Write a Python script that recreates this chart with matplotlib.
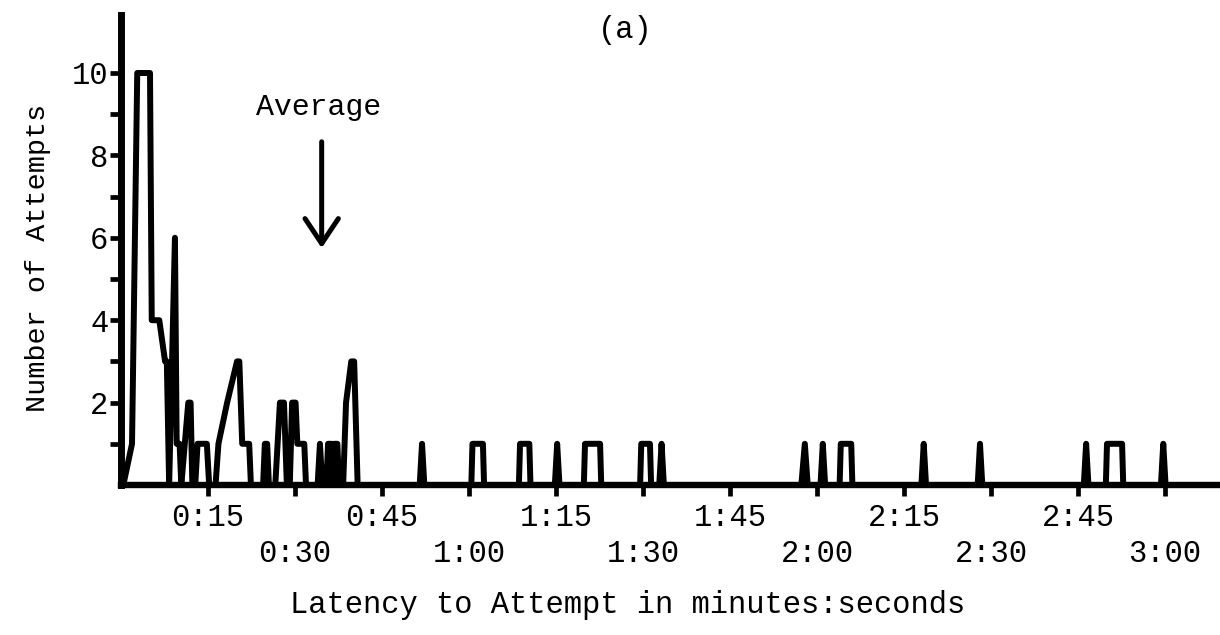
import matplotlib
matplotlib.use("Agg")
import matplotlib.pyplot as plt
from matplotlib.ticker import FixedLocator, NullFormatter

# Frequency polygon of attempt latencies: vertices (seconds, number of attempts)
latency_s = [
    0.0, 0.4, 1.9, 2.8, 5.0, 5.3, 6.6, 7.6, 7.9, 8.3, 9.3, 9.6, 10.1, 10.4,
    11.6, 12.0, 12.3, 12.8, 13.2, 14.8, 15.2,
    16.3, 16.8, 18.3, 20.0, 20.4, 20.9, 22.1, 22.4,
    24.5, 24.8, 25.2, 25.5,
    26.6, 27.0, 27.4, 28.1, 28.6, 29.1, 29.5, 30.1, 30.4, 31.6, 31.9,
    33.9, 34.3, 34.7,
    35.4, 35.7, 36.3, 36.5, 36.7, 37.3, 37.6,
    38.3, 38.8, 39.7, 40.2, 40.8,
    51.5, 51.9, 52.3,
    60.4, 60.6, 62.4, 62.6,
    68.6, 68.8, 70.4, 70.6,
    74.8, 75.2, 75.6,
    79.8, 80.0, 82.6, 82.8,
    89.5, 89.7, 91.2, 91.4,
    92.8, 93.2, 93.6,
    117.3, 117.9, 118.4,
    120.6, 121.0, 121.4,
    123.9, 124.1, 125.9, 126.1,
    138.0, 138.4, 138.8,
    147.7, 148.1, 148.5,
    166.0, 166.4, 166.8,
    169.8, 170.0, 172.6, 172.8,
    179.3, 179.7, 180.1,
    186.0,
]
attempts = [
    0, 0, 1, 10, 10, 4, 4, 3, 3, 0, 6, 1, 1, 0,
    2, 2, 0, 0, 1, 1, 0,
    0, 1, 2, 3, 3, 1, 1, 0,
    0, 1, 1, 0,
    0, 1, 2, 2, 0, 0, 2, 2, 1, 1, 0,
    0, 1, 0,
    0, 1, 1, 0, 1, 1, 0,
    0, 2, 3, 3, 0,
    0, 1, 0,
    0, 1, 1, 0,
    0, 1, 1, 0,
    0, 1, 0,
    0, 1, 1, 0,
    0, 1, 1, 0,
    0, 1, 0,
    0, 1, 0,
    0, 1, 0,
    0, 1, 1, 0,
    0, 1, 0,
    0, 1, 0,
    0, 1, 0,
    0, 1, 1, 0,
    0, 1, 0,
    0,
]

AVERAGE_LATENCY_S = 34.6

x_ticks = list(range(15, 181, 15))
x_tick_labels = ["0:15", "0:30", "0:45", "1:00", "1:15", "1:30",
                 "1:45", "2:00", "2:15", "2:30", "2:45", "3:00"]
y_major = [2, 4, 6, 8, 10]
y_minor = [1, 3, 5, 7, 9]

FONT = "Liberation Mono"
plt.rcParams["font.family"] = FONT

W, H = 1220, 635
fig = plt.figure(figsize=(W / 100, H / 100), dpi=100)

x0_px, y0_px = 121, 485          # origin of the plot in pixels
px_per_s, px_per_unit = 5.8, 41.2
top_px = 15
ax_w, ax_h = W - x0_px, y0_px - top_px
ax = fig.add_axes([x0_px / W, (H - y0_px) / H, ax_w / W, ax_h / H])
ax.set_xlim(0, ax_w / px_per_s)
ax.set_ylim(0, ax_h / px_per_unit)

ax.plot(latency_s, attempts, color="black", lw=4.3,
        solid_joinstyle="round", solid_capstyle="round", clip_on=False, zorder=3)

for side in ("top", "right"):
    ax.spines[side].set_visible(False)
ax.spines["left"].set_linewidth(5.0)
ax.spines["bottom"].set_linewidth(4.6)
ax.spines["left"].set_capstyle("projecting")

# y axis: labelled even counts, unlabelled odd ticks
ax.yaxis.set_major_locator(FixedLocator(y_major))
ax.yaxis.set_minor_locator(FixedLocator(y_minor))
ax.yaxis.set_minor_formatter(NullFormatter())
ax.set_yticklabels([str(v) for v in y_major])
ax.tick_params(axis="y", which="both", direction="out", length=8, width=3.4,
               labelsize=22, pad=1)

# x axis: labels alternate between two rows
upper = [t for i, t in enumerate(x_ticks) if i % 2 == 0]
lower = [t for i, t in enumerate(x_ticks) if i % 2 == 1]
ax.xaxis.set_major_locator(FixedLocator(lower))
ax.xaxis.set_minor_locator(FixedLocator(upper))
ax.set_xticklabels([x_tick_labels[i] for i in range(1, len(x_ticks), 2)])
ax.set_xticklabels([x_tick_labels[i] for i in range(0, len(x_ticks), 2)], minor=True)
ax.tick_params(axis="x", which="both", direction="out", length=8, width=3.4,
               labelsize=22)
ax.tick_params(axis="x", which="minor", pad=5)
ax.tick_params(axis="x", which="major", pad=31)

ax.set_xlabel("Latency to Attempt in minutes:seconds", fontsize=22)
ax.xaxis.set_label_coords((628 - x0_px) / ax_w, -(605 - y0_px) / ax_h)
ax.xaxis.label.set_va("center")
ax.set_ylabel("Number of Attempts", fontsize=20.5)
ax.yaxis.set_label_coords(-(x0_px - 38) / ax_w, (y0_px - 258) / ax_h)
ax.yaxis.label.set_va("center")

# Average marker
ax.text(AVERAGE_LATENCY_S - 0.6, 9.18, "Average", fontsize=21.5, ha="center", va="center")
ax.annotate("", xy=(AVERAGE_LATENCY_S, 5.75), xytext=(AVERAGE_LATENCY_S, 8.33),
            arrowprops=dict(arrowstyle="->,head_length=18,head_width=12",
                            mutation_scale=1, lw=3.6, color="black",
                            shrinkA=0, shrinkB=0))

fig.text(625 / W, 1 - 30 / H, "(a)", fontsize=22, ha="center", va="center")

fig.savefig("out.png", dpi=100)
